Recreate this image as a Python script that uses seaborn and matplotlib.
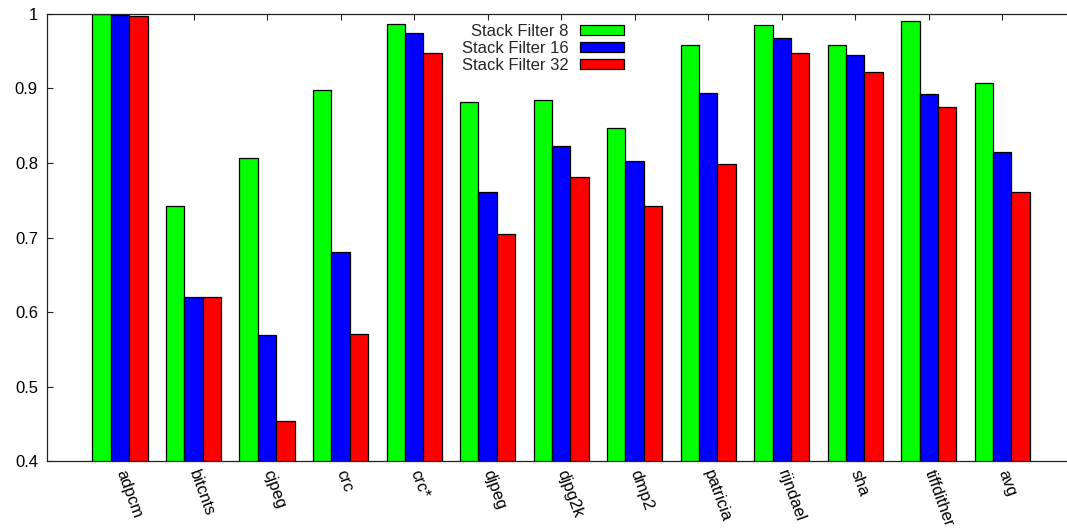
import matplotlib
matplotlib.use("Agg")
import matplotlib.pyplot as plt
from matplotlib.ticker import FuncFormatter, MultipleLocator
import pandas as pd
import seaborn as sns

# Benchmarks and hit ratios for each stack filter size
benchmarks = ["adpcm", "bitcnts", "cjpeg", "crc", "crc*", "djpeg", "djpg2k",
              "dmp2", "patricia", "rijndael", "sha", "tiffdither", "avg"]
filter_8 = [1.000, 0.742, 0.807, 0.898, 0.987, 0.882, 0.885,
            0.847, 0.959, 0.985, 0.958, 0.990, 0.908]
filter_16 = [0.998, 0.620, 0.569, 0.680, 0.975, 0.761, 0.823,
             0.803, 0.894, 0.968, 0.945, 0.893, 0.815]
filter_32 = [0.997, 0.620, 0.454, 0.570, 0.948, 0.705, 0.781,
             0.742, 0.798, 0.947, 0.922, 0.875, 0.761]
series_names = ["Stack Filter 8", "Stack Filter 16", "Stack Filter 32"]
series_colors = ["#00ff00", "#0000ff", "#ff0000"]

rows = []
for name, vals in zip(series_names, [filter_8, filter_16, filter_32]):
    for b, v in zip(benchmarks, vals):
        rows.append({"benchmark": b, "series": name, "value": v})
df = pd.DataFrame(rows)

sns.set_style("ticks")
plt.rcParams["font.family"] = ["Liberation Sans", "DejaVu Sans"]
FS = 12
plt.rcParams["font.size"] = FS

fig = plt.figure(figsize=(10.67, 5.29), dpi=100)
ax = fig.add_axes([47 / 1067, 1 - 461 / 529, 1 - 47 / 1067, (461 - 14) / 529])

sns.barplot(data=df, x="benchmark", y="value", hue="series",
            order=benchmarks, hue_order=series_names,
            palette=series_colors, width=0.75, saturation=1,
            edgecolor="black", linewidth=0.9, ax=ax)

ax.set_ylim(0.4, 1.0)
ax.set_xlim(-0.993, 12.88)
ax.yaxis.set_major_locator(MultipleLocator(0.1))
ax.yaxis.set_major_formatter(FuncFormatter(lambda v, p: f"{v:g}"))
ax.set_xlabel("")
ax.set_ylabel("")

for side in ["left", "top", "bottom"]:
    ax.spines[side].set_visible(True)
    ax.spines[side].set_linewidth(0.9)
    ax.spines[side].set_color("#222222")
ax.spines["right"].set_visible(False)

ax.tick_params(axis="y", direction="in", length=4, width=0.8, pad=6.5,
               labelsize=FS, colors="#222222", labelcolor="black")
ax.tick_params(axis="x", direction="in", top=True, bottom=False, length=4,
               width=0.8, pad=7, labelsize=FS, colors="#222222",
               labelcolor="black")
ax.set_xticks(range(len(benchmarks)))
ax.set_xticklabels(benchmarks, rotation=-70, ha="left", va="center",
                   rotation_mode="anchor")

leg = ax.get_legend()
handles = leg.legend_handles
labels = [t.get_text() for t in leg.get_texts()]
leg.remove()
for h, c in zip(handles, series_colors):
    h.set_facecolor(c)
    h.set_edgecolor("black")
    h.set_linewidth(0.9)
fig.legend(handles, labels, loc="upper right",
           bbox_to_anchor=(632 / 1067, 1 - 16 / 529),
           frameon=False, markerfirst=False, borderpad=0,
           handlelength=2.65, handleheight=0.55, handletextpad=0.65,
           labelspacing=0.12, fontsize=FS)

fig.savefig("out.png", dpi=100)
